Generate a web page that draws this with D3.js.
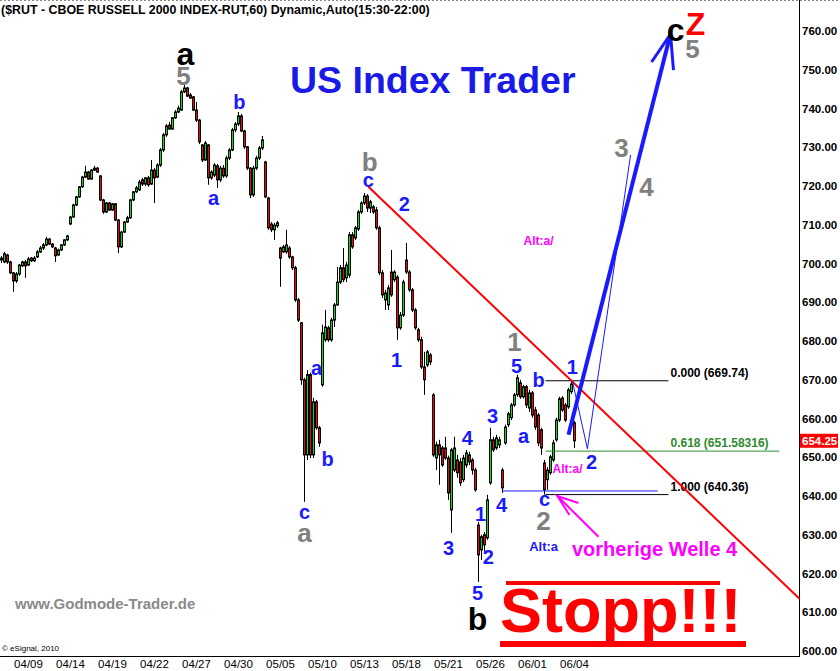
<!DOCTYPE html>
<html>
<head>
<meta charset="utf-8">
<script src="https://cdn.jsdelivr.net/npm/d3@7/dist/d3.min.js"></script>
<style>
body { margin: 0; background: #fff; }
svg { display: block; }
text { font-family: "Liberation Sans", Arial, sans-serif; }
</style>
</head>
<body>
<div id="chart"></div>
<script>
var width  = 840,
    height = 671,
    title  = '($RUT - CBOE RUSSELL 2000 INDEX-RUT,60) Dynamic,Auto(15:30-22:00)';

// x axis labels and the bar they sit under
var dateLabels = ['04/09', '04/14', '04/19', '04/22', '04/27', '04/30', '05/05',
                  '05/10', '05/13', '05/18', '05/21', '05/26', '06/01', '06/04'];
var dateIndex  = [9, 23, 37, 51, 65, 79, 93, 107, 121, 135, 149, 163, 177, 191];

var yTicks    = [600, 610, 620, 630, 640, 650, 660, 670, 680, 690, 700, 710, 720, 730, 740, 750, 760];
var lastPrice = 654.25;

// hourly bars: open, high, low, close
var candles = [
    [700.9,701.9,700.1,701.4],[700.4,703.0,700.1,702.5],[702.2,702.5,699.9,700.4],[700.4,700.7,697.3,697.6],
    [697.6,697.8,692.7,695.5],[695.5,697.8,695.0,697.3],[697.3,699.9,696.8,699.6],[699.4,700.7,699.1,700.4],
    [700.4,700.9,696.3,699.4],[699.6,701.7,699.4,701.2],[701.4,701.7,700.4,700.7],[700.7,701.9,700.4,701.4],
    [701.7,703.5,701.4,703.0],[703.0,704.5,702.7,704.0],[704.0,705.3,703.5,704.8],[704.8,706.9,704.5,706.3],
    [706.3,706.6,704.8,705.0],[705.0,705.3,704.0,704.3],[704.0,704.3,700.4,702.0],[702.2,703.8,702.0,703.5],
    [703.5,705.0,703.2,704.8],[704.8,706.3,704.5,706.1],[706.1,707.4,705.8,707.1],
    [710.2,712.3,709.9,712.0],[712.0,715.4,711.8,715.1],[715.1,717.4,714.8,717.2],[717.2,720.0,716.9,719.8],
    [719.8,722.6,719.5,722.3],[722.3,725.2,722.1,723.6],[723.6,723.9,721.6,721.8],[721.8,724.4,721.6,724.1],
    [724.1,725.2,723.9,724.6],[724.6,724.9,723.4,723.6],[722.6,722.8,716.1,716.4],[716.4,716.7,712.8,713.3],
    [713.3,715.9,713.0,715.6],[715.6,715.9,713.6,713.8],[713.8,715.6,713.6,715.4],[715.4,715.6,711.0,711.2],
    [711.2,711.5,702.7,704.3],[704.3,708.4,704.0,708.1],[708.1,711.0,707.9,710.7],[710.7,712.3,710.5,711.8],
    [711.8,716.7,711.5,716.4],[716.4,718.7,716.1,718.5],[718.5,720.0,718.2,719.5],[719.0,721.6,718.7,721.0],
    [721.6,722.1,720.0,720.5],[720.5,722.3,720.0,722.1],[722.1,722.6,719.8,720.3],[720.5,726.7,720.3,724.1],
    [724.1,724.6,715.6,722.1],[722.3,725.9,722.1,725.4],[725.4,729.8,724.9,729.3],[729.3,733.7,728.8,733.2],
    [733.2,736.0,732.7,735.5],[735.7,736.5,734.5,734.7],[734.7,737.8,734.5,737.6],[737.6,739.6,737.3,739.1],
    [739.1,740.7,738.8,740.1],[739.6,744.8,739.4,744.3],[744.3,746.1,744.0,745.3],[745.3,745.6,743.0,743.2],
    [743.5,744.0,742.5,742.7],[743.0,743.2,739.4,739.6],[739.6,741.7,736.5,737.0],[737.0,737.3,730.8,731.4],
    [730.6,730.8,726.2,726.7],[726.7,731.6,726.5,731.1],[730.6,730.8,720.3,722.1],[722.1,724.1,721.6,723.6],
    [722.8,725.9,722.3,725.4],[725.2,725.7,719.5,721.6],[721.6,725.2,721.0,724.6],[724.6,725.4,722.1,722.6],
    [722.6,727.8,722.1,727.2],[727.2,729.8,726.7,729.3],[729.3,735.0,729.0,734.5],[734.5,736.5,733.9,736.0],
    [736.0,739.1,735.5,738.1],[738.1,738.6,733.9,734.2],[734.2,734.5,729.6,730.1],[730.1,730.3,724.1,724.6],
    [724.6,724.9,716.9,717.7],[717.7,725.2,717.2,724.6],[724.6,727.8,724.1,727.2],[727.2,730.3,726.7,729.8],
    [729.8,732.9,729.3,731.9],[726.2,726.5,716.9,717.2],[716.9,717.2,708.7,709.2],[710.2,710.7,708.1,708.7],
    [708.7,710.5,706.1,709.9],[709.7,711.0,709.2,710.5],[704.0,704.3,694.0,701.4],[703.0,704.8,702.7,704.3],
    [703.0,708.7,702.5,704.8],[704.0,704.5,701.2,701.7],[701.7,702.0,698.3,698.9],[698.9,699.4,690.1,690.6],
    [690.6,691.1,684.9,685.4],[684.7,684.9,668.7,670.0],[670.0,670.5,638.5,650.6],[650.6,672.5,649.3,671.3],
    [671.3,671.8,649.8,650.6],[650.6,665.3,649.8,664.3],[664.3,664.8,657.1,657.6],[657.6,658.1,652.7,653.7],
    [668.7,684.2,668.2,682.1],[680.3,688.0,679.8,683.6],[683.4,683.9,679.8,680.3],[680.3,686.0,679.8,685.4],
    [685.4,689.8,683.6,689.3],[689.3,699.1,689.1,695.2],[695.2,699.6,694.7,698.9],[698.9,704.0,695.2,695.8],
    [696.3,700.4,695.2,699.6],[697.0,708.1,696.3,707.4],[707.4,708.1,703.8,704.3],[706.6,709.7,706.1,709.2],
    [708.9,713.8,708.4,713.3],[713.3,716.1,712.8,715.6],[715.6,718.2,715.1,717.4],[717.4,717.9,713.3,714.3],
    [714.3,716.4,713.0,715.9],[714.6,715.1,712.8,713.3],[713.8,714.6,708.7,709.2],[709.2,709.7,697.0,697.6],
    [697.6,698.3,691.1,691.9],[690.6,693.2,688.0,692.4],[689.3,694.5,688.0,693.7],[697.8,703.5,691.4,691.9],
    [695.8,698.3,695.2,697.8],[696.5,697.0,680.3,683.4],[683.4,687.5,682.9,686.7],[686.7,695.8,686.2,695.2],
    [700.9,705.3,697.3,697.8],[697.8,698.3,692.7,693.2],[693.2,693.7,687.5,688.0],[688.0,688.5,682.9,683.4],
    [682.9,683.4,679.8,680.3],[680.3,681.1,672.8,673.3],[673.3,677.2,666.1,670.0],[673.8,677.7,673.3,677.2],
    [676.4,676.9,673.8,674.6],[666.1,666.6,650.1,650.6],[649.8,654.0,646.7,653.2],[653.2,654.5,642.9,650.6],
    [652.4,652.9,647.5,648.0],[652.4,655.3,649.3,649.8],[649.8,650.4,639.0,640.8],[636.4,652.4,630.5,651.9],
    [646.7,655.3,646.2,652.4],[649.3,650.6,644.7,646.0],[648.8,649.8,642.6,643.4],[644.2,650.6,643.6,649.8],
    [648.0,651.9,647.3,651.1],[650.6,651.4,648.0,648.8],[649.3,649.8,645.5,646.7],[646.7,647.3,641.1,641.6],
    [632.5,633.3,617.8,624.8],[626.1,630.0,623.5,629.5],[630.0,630.7,625.6,627.4],[629.2,640.3,628.7,639.0],
    [643.4,657.6,642.9,654.5],[654.5,655.3,651.4,651.9],[652.4,655.8,651.9,655.0],[653.2,655.3,652.4,654.5],
    [646.7,647.3,640.8,642.1],[653.7,658.4,653.2,657.8],[658.4,661.7,657.8,661.2],[660.2,664.0,659.6,663.5],
    [663.5,666.6,663.0,666.1],[666.1,671.3,665.6,670.5],[669.2,670.0,665.1,665.6],[665.6,668.7,665.1,668.2],
    [668.2,668.7,662.7,663.5],[662.7,667.4,661.7,666.6],[666.6,667.1,660.2,660.9],[662.2,663.0,657.1,657.8],
    [660.9,661.4,652.9,653.7],[657.1,657.6,650.6,652.4],[648.5,649.3,640.36,641.6],[644.2,647.5,641.6,646.7],
    [646.0,650.6,645.5,650.1],[649.3,654.5,648.8,653.7],[654.5,660.2,654.0,659.6],[659.6,665.6,659.1,665.1],
    [665.3,665.8,661.7,662.2],[663.5,664.0,659.1,659.6],[663.0,667.9,662.5,667.4],[666.9,669.74,666.3,668.9],
    [658.9,659.4,652.4,654.25]
];

// drawn lines, as [bar index, price]
var trendLine  = [[122.3, 719.8], [266, 613.5]];
var projection = [[189, 655.8], [223, 759.2]];
var arrowHead  = [[216.7, 752.0], [223, 759.2], [224, 749.9]];
var altPath    = [[190.3, 669.7], [195.3, 652.2], [209.7, 728.0]];
var pinkArrow  = [[199, 629.5], [185.3, 640.0]];
var pinkBarbs  = [[192.3, 638.2], [185.3, 640.0], [189.3, 635.1]];
var prevWave4  = 641.3;

var fibRatios = ['0.000', '0.618', '1.000'];
var fibPrices = [669.74, 651.58316, 640.36];

// wave counts: text, bar index, price, kind
var waveLabels = [
    ['a', 61.3, 754.3, 'black'], ['5', 60.7, 748.4, 'grey'], ['b', 79.3, 741.7, 'blue'],
    ['a', 70.7, 716.9, 'blue'], ['b', 122.7, 726.3, 'grey'], ['c', 122.3, 721.6, 'blue'],
    ['2', 134.3, 715.4, 'blue'], ['1', 131.7, 675.1, 'blue'], ['a', 105, 673.1, 'blue'],
    ['b', 108.7, 649.6, 'blue'], ['c', 101, 635.9, 'blue'], ['a', 101, 630.6, 'grey'],
    ['1', 171, 679.8, 'grey'], ['5', 171.7, 673.6, 'blue'], ['b', 179, 670.0, 'blue'],
    ['1', 190.3, 673.3, 'blue'], ['3', 163.7, 660.7, 'blue'], ['a', 174, 655.5, 'blue'],
    ['4', 155.3, 655.0, 'blue'], ['4', 166.7, 637.7, 'blue'], ['3', 149, 626.6, 'blue'],
    ['1', 159.7, 635.4, 'blue'], ['2', 162.3, 624.3, 'blue'], ['5', 158.7, 615.0, 'blue'],
    ['b', 158.7, 608.3, 'black'], ['c', 181, 639.3, 'blue'], ['2', 180.7, 633.6, 'grey'],
    ['2', 196.7, 648.8, 'blue'], ['3', 206.7, 729.8, 'grey'], ['4', 215, 719.8, 'grey'],
    ['c', 224.7, 760.3, 'black'], ['Z', 231.3, 762.0, 'red'], ['5', 230.3, 755.4, 'grey'],
    ['Alt:a/', 179, 705.8, 'alt'], ['Alt:a/', 188.7, 647.0, 'alt'], ['Alt:a', 180.7, 626.9, 'altBlue'],
    ['vorherige Welle 4', 217.7, 626.4, 'welle']
];

var labelStyle = {
    black:   { size: 32, color: '#000000' },
    grey:    { size: 26, color: '#808080' },
    blue:    { size: 20, color: '#1a1aff' },
    red:     { size: 32, color: '#ff0000' },
    alt:     { size: 12, color: '#ff00ff' },
    altBlue: { size: 13, color: '#1a1aff' },
    welle:   { size: 20, color: '#ff00ff' }
};

var svg = d3.select('#chart').append('svg')
    .attr('width', width)
    .attr('height', height);

var x = d3.scaleLinear().domain([0, 191]).range([1.5, 574.5]),
    y = d3.scaleLinear().domain([600, 760]).range([651, 31]);

var line = d3.line()
    .x(function(d) { return x(d[0]); })
    .y(function(d) { return y(d[1]); });

draw();

function draw() {
    // frame
    svg.append('line')
        .attr('x1', 0).attr('x2', width).attr('y1', 0.5).attr('y2', 0.5)
        .style('stroke', '#888').style('stroke-dasharray', '2,2');
    svg.append('line')
        .attr('x1', 799.5).attr('x2', 799.5).attr('y1', 0).attr('y2', 657)
        .style('stroke', '#000');
    svg.append('line')
        .attr('x1', 0).attr('x2', 800).attr('y1', 656.5).attr('y2', 656.5)
        .style('stroke', '#000');

    svg.append('text')
        .attr('x', 1).attr('y', 14)
        .style('font-size', '12.4px').style('font-weight', 'bold')
        .text(title);

    // price axis
    svg.selectAll('.ytick')
        .data(yTicks)
        .enter().append('text')
        .attr('class', 'ytick')
        .attr('x', 802)
        .attr('y', function(d) { return y(d) + 4; })
        .style('font-size', '11.5px').style('font-weight', 'bold')
        .text(d3.format('.2f'));

    svg.append('rect')
        .attr('x', 800).attr('y', y(lastPrice) - 7)
        .attr('width', 38).attr('height', 14)
        .style('fill', '#ff0000');
    svg.append('text')
        .attr('x', 802).attr('y', y(lastPrice) + 4)
        .style('font-size', '11.5px').style('font-weight', 'bold').style('fill', '#fff')
        .text(d3.format('.2f')(lastPrice));

    // date axis
    svg.selectAll('.xtick')
        .data(dateLabels)
        .enter().append('text')
        .attr('class', 'xtick')
        .attr('x', function(d, i) { return x(dateIndex[i]); })
        .attr('y', 668)
        .attr('text-anchor', 'middle')
        .style('font-size', '11.5px')
        .text(function(d) { return d; });

    // candles
    var bars = svg.append('g').selectAll('g')
        .data(candles)
        .enter().append('g');
    bars.append('line')
        .attr('x1', function(d, i) { return x(i); })
        .attr('x2', function(d, i) { return x(i); })
        .attr('y1', function(d) { return y(d[1]); })
        .attr('y2', function(d) { return y(d[2]); })
        .style('stroke', '#000');
    bars.append('rect')
        .attr('x', function(d, i) { return x(i) - 1; })
        .attr('width', 2)
        .attr('y', function(d) { return y(Math.max(d[0], d[3])); })
        .attr('height', function(d) { return Math.max(1, Math.abs(y(d[0]) - y(d[3]))); })
        .style('fill', function(d) { return d[3] >= d[0] ? '#00e600' : '#ff0000'; })
        .style('stroke', '#000');

    // fibonacci levels
    svg.append('line')
        .attr('x1', x(167)).attr('x2', x(218.7))
        .attr('y1', y(prevWave4)).attr('y2', y(prevWave4))
        .style('stroke', '#1a1aff');
    fibPrices.forEach(function(p, i) {
        var green = fibRatios[i] === '0.618';
        svg.append('line')
            .attr('x1', x(181.3)).attr('x2', x(green ? 259.3 : 222.3))
            .attr('y1', y(p)).attr('y2', y(p))
            .style('stroke', green ? '#2e8b2e' : '#000');
        svg.append('text')
            .attr('x', x(223)).attr('y', y(p) - 4)
            .style('font-size', '12px').style('font-weight', 'bold')
            .style('fill', green ? '#2e8b2e' : '#000')
            .text(fibRatios[i] + ' (' + p + ')');
    });

    // trend line and projections
    svg.append('path').attr('d', line(trendLine))
        .style('fill', 'none').style('stroke', '#ff0000').style('stroke-width', 2);
    svg.append('path').attr('d', line(altPath))
        .style('fill', 'none').style('stroke', '#1a1aff').style('stroke-width', 1);
    svg.append('path').attr('d', line(projection))
        .style('fill', 'none').style('stroke', '#1a1aff').style('stroke-width', 4);
    svg.append('path').attr('d', line(arrowHead))
        .style('fill', 'none').style('stroke', '#1a1aff').style('stroke-width', 3);
    svg.append('path').attr('d', line(pinkArrow))
        .style('fill', 'none').style('stroke', '#ff00ff').style('stroke-width', 2);
    svg.append('path').attr('d', line(pinkBarbs))
        .style('fill', 'none').style('stroke', '#ff00ff').style('stroke-width', 2);

    // wave counts
    svg.selectAll('.wave')
        .data(waveLabels)
        .enter().append('text')
        .attr('class', 'wave')
        .attr('x', function(d) { return x(d[1]); })
        .attr('y', function(d) { return y(d[2]); })
        .attr('dy', '0.36em')
        .attr('text-anchor', 'middle')
        .style('font-weight', 'bold')
        .style('font-size', function(d) { return labelStyle[d[3]].size + 'px'; })
        .style('fill', function(d) { return labelStyle[d[3]].color; })
        .text(function(d) { return d[0]; });

    // branding
    svg.append('text')
        .attr('x', 290).attr('y', 93)
        .style('font-size', '37.5px').style('font-weight', 'bold').style('fill', '#1a1ae6')
        .text('US Index Trader');
    svg.append('text')
        .attr('x', 15).attr('y', 609)
        .style('font-size', '15px').style('font-weight', 'bold').style('fill', '#8a8a8a')
        .text('www.Godmode-Trader.de');
    svg.append('text')
        .attr('x', 2).attr('y', 651)
        .style('font-size', '8px')
        .text('\u00a9 eSignal, 2010');

    svg.append('rect')
        .attr('x', 506).attr('y', 581).attr('width', 214).attr('height', 4)
        .style('fill', '#ff0000');
    svg.append('text')
        .attr('x', 500).attr('y', 632)
        .style('font-size', '63px').style('font-weight', 'bold').style('fill', '#ff0000')
        .text('Stopp!!!');
    svg.append('rect')
        .attr('x', 500).attr('y', 641).attr('width', 246).attr('height', 6)
        .style('fill', '#ff0000');
}
</script>
</body>
</html>
